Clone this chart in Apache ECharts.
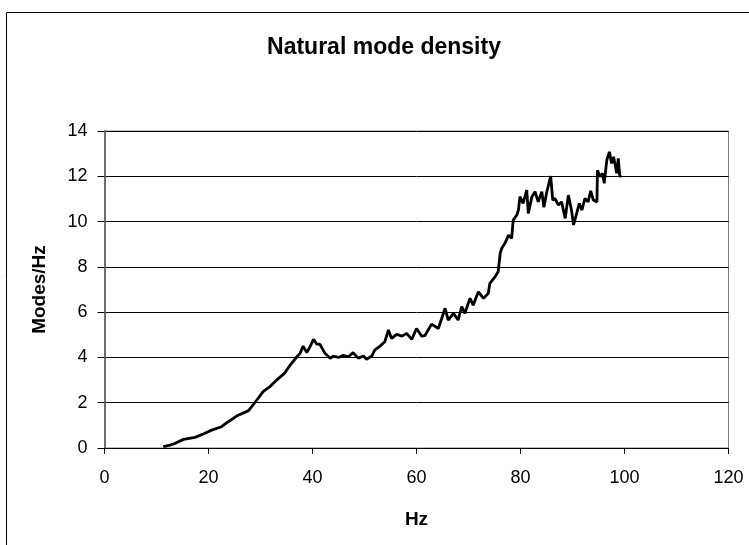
<!DOCTYPE html>
<html>
<head>
<meta charset="utf-8">
<script src="https://cdn.jsdelivr.net/npm/echarts@6/dist/echarts.min.js"></script>
<style>
html,body{margin:0;padding:0;background:#fff;}
#c{width:749px;height:545px;}
</style>
</head>
<body>
<div id="c"></div>
<script>
// Frequency (Hz) values
const hz = [11.3,12.6,13.5,15.2,17.4,19.0,20.6,22.5,23.8,25.4,27.7,29.3,30.5,31.8,33.1,34.7,35.7,37.0,37.6,38.2,38.9,39.5,40.2,40.8,41.4,42.4,43.4,44.0,45.0,45.9,46.9,47.8,48.8,49.8,50.4,51.4,52.0,53.0,53.9,54.6,55.2,56.2,57.2,58.1,59.1,60.0,61.0,61.6,62.9,64.2,65.5,66.1,67.1,68.0,68.7,69.3,70.3,70.9,71.9,72.9,73.8,74.1,75.1,75.7,76.1,76.4,77.0,77.7,78.3,78.6,79.3,79.6,79.9,80.5,81.2,81.5,82.2,82.8,83.4,84.1,84.5,85.0,85.8,86.2,86.6,87.3,87.9,88.6,89.2,89.8,90.2,90.8,91.3,91.8,92.4,93.0,93.5,94.0,94.7,94.8,95.3,95.8,96.1,96.6,97.1,97.5,97.9,98.5,98.8,99.1,99.4];
// Mode density (Modes/Hz) values
const modes = [0.06,0.13,0.2,0.38,0.47,0.62,0.79,0.94,1.16,1.41,1.65,2.12,2.49,2.71,3.0,3.32,3.66,4.03,4.18,4.5,4.21,4.47,4.8,4.59,4.59,4.18,3.96,4.06,4.0,4.09,4.03,4.21,3.97,4.06,3.92,4.06,4.33,4.5,4.69,5.21,4.84,5.02,4.94,5.06,4.8,5.28,4.94,4.96,5.47,5.28,6.17,5.65,5.95,5.65,6.24,5.95,6.61,6.31,6.9,6.61,6.83,7.27,7.56,7.78,8.6,8.82,9.04,9.4,9.26,10.07,10.29,10.51,11.1,10.8,11.39,10.36,11.1,11.32,10.87,11.32,10.63,11.25,12.01,10.95,11.02,10.73,10.87,10.14,11.17,10.51,9.85,10.36,10.8,10.51,11.02,10.87,11.36,10.95,10.87,12.27,11.98,12.13,11.69,12.72,13.08,12.57,12.86,12.13,12.79,11.98,12.05];
const xTicks = [0,20,40,60,80,100,120];
const yTicks = [0,2,4,6,8,10,12,14];

const chart = echarts.init(document.getElementById('c'), null, {renderer:'canvas'});
const font = '"Liberation Sans", Arial, sans-serif';
chart.setOption({
  animation: false,
  backgroundColor: '#fff',
  title: {
    text: 'Natural mode density',
    left: 379, top: 31, textAlign: 'center',
    textStyle: {fontFamily: font, fontWeight: 'bold', fontSize: 23, color: '#000'}
  },
  graphic: [{
    type: 'rect', shape: {x: 6.5, y: 12.5, width: 800, height: 600},
    style: {fill: 'none', stroke: '#000', lineWidth: 1}, silent: true, z: -1
  }],
  grid: {left: 104.5, right: 20.5, top: 131, bottom: 97, show: true, borderColor: '#808080', borderWidth: 1, backgroundColor: '#fff'},
  xAxis: {
    type: 'value', min: xTicks[0], max: xTicks[xTicks.length-1], interval: 20,
    name: 'Hz', nameLocation: 'middle', nameGap: 62,
    nameTextStyle: {fontFamily: font, fontWeight: 'bold', fontSize: 19, color: '#000'},
    axisLine: {show: true, lineStyle: {color: '#000', width: 1}},
    axisTick: {show: true, length: 6, lineStyle: {color: '#000'}},
    axisLabel: {fontFamily: font, fontSize: 18, color: '#000', margin: 21},
    splitLine: {show: false}
  },
  yAxis: {
    type: 'value', min: yTicks[0], max: yTicks[yTicks.length-1], interval: 2,
    name: 'Modes/Hz', nameLocation: 'middle', nameGap: 55,
    nameTextStyle: {fontFamily: font, fontWeight: 'bold', fontSize: 19, color: '#000'},
    axisLine: {show: true, lineStyle: {color: '#707070', width: 2}},
    axisTick: {show: true, length: 7, lineStyle: {color: '#000'}},
    axisLabel: {fontFamily: font, fontSize: 18, color: '#000', margin: 17},
    splitLine: {show: true, lineStyle: {color: '#000', width: 1}}
  },
  series: [{
    type: 'line',
    data: hz.map((h, i) => [h, modes[i]]),
    showSymbol: false,
    lineStyle: {color: '#000', width: 2.8},
    z: 5
  }]
});
</script>
</body>
</html>
